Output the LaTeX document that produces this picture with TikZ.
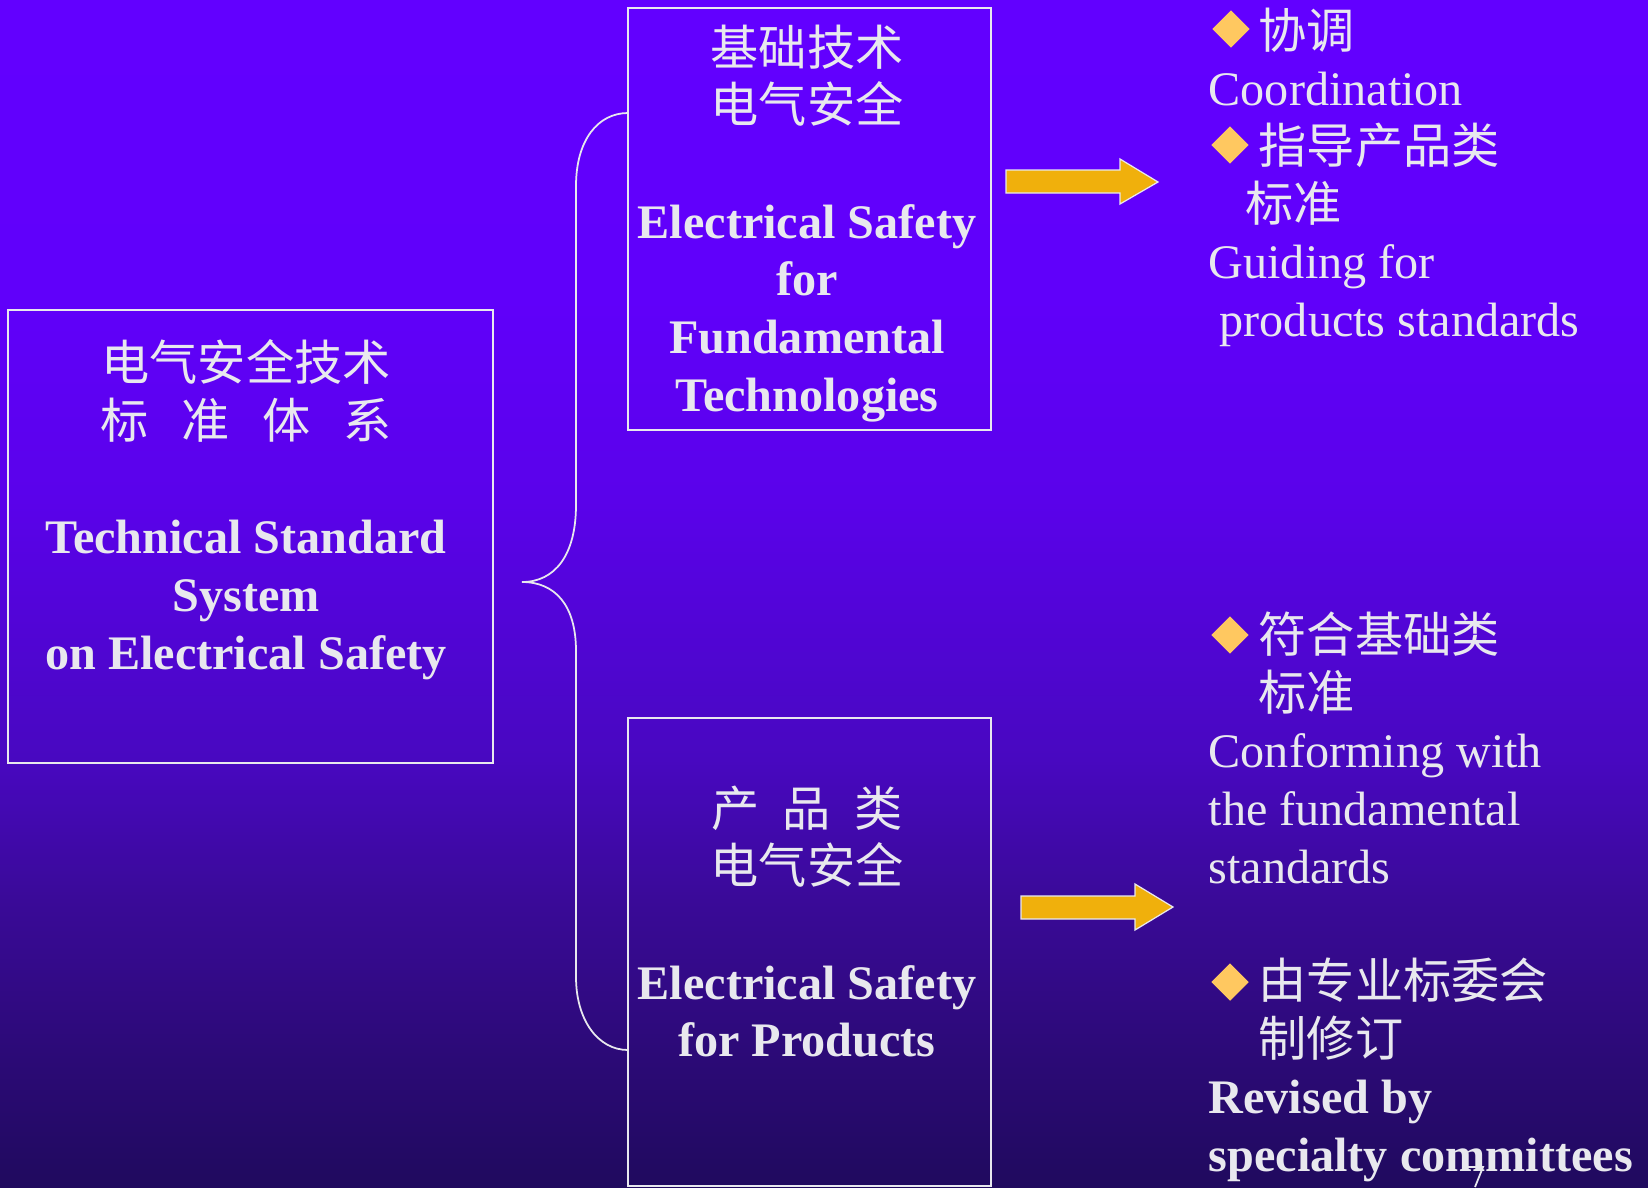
\documentclass[tikz,border=0pt]{standalone}
\usepackage{fontspec}
\setmainfont{Liberation Serif}
\newfontfamily\cjk{Noto Sans CJK SC}
\usetikzlibrary{shapes.geometric}
\definecolor{ink}{HTML}{E8E8EE}
\definecolor{gemcol}{HTML}{FFC860}
\definecolor{arrowcol}{HTML}{F0B00C}
\definecolor{bgTop}{HTML}{6200FF}
\definecolor{bgA}{HTML}{6000FA}
\definecolor{bgB}{HTML}{5A02EA}
\definecolor{bgC}{HTML}{4808C0}
\definecolor{bgD}{HTML}{3A0A98}
\definecolor{bgE}{HTML}{2C0A78}
\definecolor{bgF}{HTML}{200A5E}
\pgfdeclareverticalshading{bgfade}{100bp}{color(0bp)=(bgF); color(25bp)=(bgF);
  color(30.8bp)=(bgE); color(37.1bp)=(bgD); color(43bp)=(bgC); color(53.9bp)=(bgB);
  color(62.4bp)=(bgA); color(75bp)=(bgTop); color(100bp)=(bgTop)}
\newcommand{\zhtxt}[1]{{\cjk #1}}
\tikzset{
  panel/.style={draw=ink, line width=0.5pt, inner sep=0pt},
  rim/.style={draw=ink, line width=0.5pt},
  words/.style={text=ink, inner sep=0pt, font={\fontsize{13.7pt}{16.4pt}\selectfont}},
  gem/.style={diamond, fill=gemcol, inner sep=0pt, minimum width=0.38cm, minimum height=0.38cm},
  blockarrow/.style={fill=arrowcol, draw=ink, line width=0.35pt, line join=miter}
}
\begin{document}
\begin{tikzpicture}[x=0.01cm,y=-0.01cm]
  % Background
  \shade[shading=bgfade] (0,0) rectangle (1648,1187);
  \useasboundingbox (0,0) rectangle (1648,1187);
  % Boxes
  \node[panel, minimum width=4.85cm, minimum height=4.53cm] (sysBox) at (250.5,536.5) {};
  \node[panel, minimum width=3.63cm, minimum height=4.22cm] (fundBox) at (809.5,219) {};
  \node[panel, minimum width=3.63cm, minimum height=4.68cm] (prodBox) at (809.5,952) {};
  % Box texts
  \node[words, anchor=north, align=center] (sysTxt) at (246,339)
    {\zhtxt{电气安全技术}\\\zhtxt{标\hspace{0.33cm}准\hspace{0.33cm}体\hspace{0.33cm}系}\\~\\
     \textbf{Technical Standard}\\\textbf{System}\\\textbf{on Electrical Safety}};
  \node[words, anchor=north, align=center] (fundTxt) at (807,24)
    {\zhtxt{基础技术}\\\zhtxt{电气安全}\\~\\
     \textbf{Electrical Safety}\\\textbf{for}\\\textbf{Fundamental}\\\textbf{Technologies}};
  \node[words, anchor=north, align=center] (prodTxt) at (807,785)
    {\zhtxt{产\hspace{0.23cm}品\hspace{0.23cm}类}\\\zhtxt{电气安全}\\~\\
     \textbf{Electrical Safety}\\\textbf{for Products}};
  % Brace
  \draw[rim] (628,113) .. controls (598,113) and (576,140) .. (576,186) -- (576,505)
    .. controls (576,555) and (555,582) .. (522,582)
    .. controls (555,582) and (576,605) .. (576,651) -- (576,977)
    .. controls (576,1020) and (598,1050) .. (628,1050);
  % Arrows
  \draw[blockarrow] (1006,170) -- (1120,170) -- (1120,159) -- (1158,182)
    -- (1120,204) -- (1120,193) -- (1006,193) -- cycle;
  \draw[blockarrow] (1021,896) -- (1135,896) -- (1135,884) -- (1173,907)
    -- (1135,930) -- (1135,919) -- (1021,919) -- cycle;
  % Right notes
  \node[words, anchor=north west, align=left] (guideTxt) at (1208,7)
    {\hspace{0.5cm}\zhtxt{协调}\\Coordination\\\hspace{0.5cm}\zhtxt{指导产品类}\\
     \hspace{0.37cm}\zhtxt{标准}\\Guiding for\\\hspace{0.11cm}products standards};
  \node[words, anchor=north west, align=left] (conformTxt) at (1208,611)
    {\hspace{0.5cm}\zhtxt{符合基础类}\\\hspace{0.5cm}\zhtxt{标准}\\Conforming with\\
     the fundamental\\standards\\~\\\hspace{0.5cm}\zhtxt{由专业标委会}\\
     \hspace{0.5cm}\zhtxt{制修订}\\\textbf{Revised by}\\\textbf{specialty committees}};
  \node[gem] (gemA) at (1231,29) {};
  \node[gem] (gemB) at (1230,145) {};
  \node[gem] (gemC) at (1230,635) {};
  \node[gem] (gemD) at (1230,982) {};
  % Stray mark
  \draw[rim] (1468,1167) -- (1483,1167) -- (1475,1187);
\end{tikzpicture}
\end{document}
